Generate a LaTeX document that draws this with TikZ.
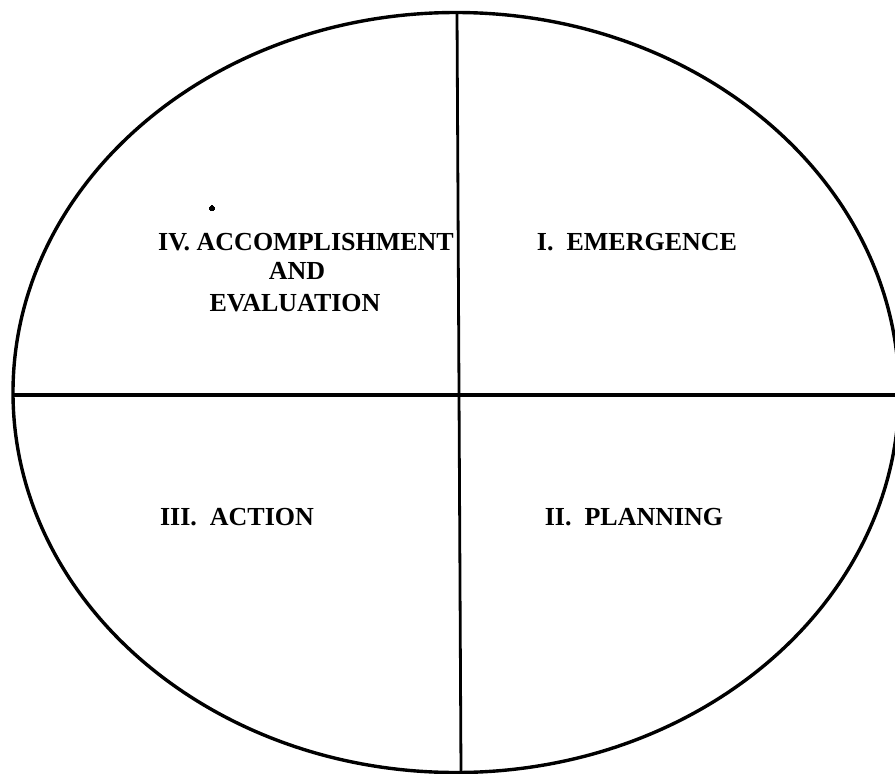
\documentclass[tikz,border=0pt]{standalone}
\usepackage{fontspec}
\setmainfont{Liberation Serif}
\begin{document}
\begin{tikzpicture}[x=1pt,y=-1pt,line width=3.4pt,
  phase/.style={font=\bfseries\fontsize{26}{26}\selectfont,inner sep=0pt,anchor=base}]
\useasboundingbox (0,0) rectangle (895,774);
\clip (0,0) rectangle (895,774);
\draw (456,392.5) ellipse[x radius=443,y radius=380];
\draw[line width=2.8pt] (457,12)--(461,773);
\draw (13,395)--(895,395);
\node[phase] (accomp) at (306,250) {IV. ACCOMPLISHMENT};
\node[phase] (and) at (297,279) {AND};
\node[phase] (evaluation) at (295,311) {EVALUATION};
\node[phase] (emergence) at (637,250) {I.\ \ EMERGENCE};
\node[phase] (action) at (237,525) {III.\ \ ACTION};
\node[phase] (planning) at (634,525) {II.\ \ PLANNING};
\filldraw[line width=0pt] (212,208) circle[radius=2.5];
\end{tikzpicture}
\end{document}
